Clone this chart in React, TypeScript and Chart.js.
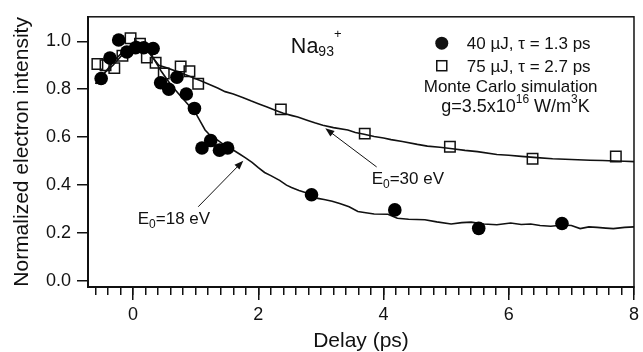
import React, { useEffect, useRef } from "react";
import { Chart, registerables } from "chart.js";

Chart.register(...registerables);

const FONT = '"Liberation Sans", Arial, Helvetica, sans-serif';
const INK = "#111111";

// 40 µJ, τ = 1.3 ps (filled circles)
const circleX = [-0.51, -0.37, -0.23, -0.1, 0.04, 0.17, 0.32, 0.44, 0.57, 0.7, 0.85, 0.98, 1.1, 1.24, 1.38, 1.51, 2.85, 4.18, 5.52, 6.85];
const circleY = [0.845, 0.93, 1.005, 0.955, 0.973, 0.973, 0.97, 0.827, 0.8, 0.85, 0.78, 0.72, 0.555, 0.586, 0.546, 0.555, 0.36, 0.297, 0.22, 0.24];

// 75 µJ, τ = 2.7 ps (open squares)
const squareX = [-0.57, -0.44, -0.3, -0.17, -0.04, 0.11, 0.22, 0.36, 0.49, 0.76, 0.9, 1.04, 2.36, 3.7, 5.06, 6.38, 7.71];
const squareY = [0.905, 0.9, 0.888, 0.94, 1.013, 0.99, 0.932, 0.91, 0.866, 0.895, 0.875, 0.823, 0.716, 0.615, 0.56, 0.51, 0.52];

// Monte Carlo simulation, E0 = 18 eV
const sim18X = [-0.6, -0.45, -0.3, -0.15, 0, 0.1, 0.2, 0.3, 0.45, 0.6, 0.73, 0.85, 1.0, 1.15, 1.26, 1.35, 1.47, 1.58, 1.7, 1.79, 1.9, 2.0, 2.1, 2.2, 2.34, 2.45, 2.53, 2.65, 2.8, 2.95, 3.05, 3.18, 3.3, 3.45, 3.59, 3.69, 3.85, 4.07, 4.22, 4.4, 4.66, 4.85, 5.08, 5.25, 5.4, 5.6, 5.81, 6.03, 6.2, 6.35, 6.5, 6.67, 6.87, 7.0, 7.14, 7.28, 7.41, 7.55, 7.67, 7.85, 8.0];
const sim18Y = [0.823, 0.87, 0.92, 0.96, 0.985, 0.99, 0.975, 0.94, 0.875, 0.82, 0.78, 0.745, 0.7, 0.63, 0.6, 0.588, 0.565, 0.55, 0.53, 0.515, 0.495, 0.473, 0.453, 0.44, 0.42, 0.4, 0.39, 0.378, 0.365, 0.345, 0.34, 0.333, 0.324, 0.31, 0.29, 0.286, 0.28, 0.279, 0.262, 0.258, 0.256, 0.247, 0.238, 0.244, 0.246, 0.238, 0.235, 0.242, 0.236, 0.238, 0.232, 0.229, 0.234, 0.232, 0.219, 0.226, 0.224, 0.221, 0.219, 0.224, 0.226];

// Monte Carlo simulation, E0 = 30 eV
const sim30X = [-0.6, -0.45, -0.32, -0.15, -0.05, 0.05, 0.15, 0.26, 0.41, 0.55, 0.69, 0.82, 0.94, 1.08, 1.22, 1.35, 1.47, 1.6, 1.75, 1.88, 2.0, 2.14, 2.28, 2.4, 2.54, 2.63, 2.79, 2.9, 3.03, 3.2, 3.43, 3.55, 3.69, 3.85, 4.0, 4.12, 4.3, 4.54, 4.7, 4.9, 5.1, 5.3, 5.5, 5.81, 6.0, 6.2, 6.45, 6.7, 6.9, 7.1, 7.3, 7.5, 7.7, 7.85, 8.0];
const sim30Y = [0.823, 0.87, 0.9, 0.95, 0.977, 1.0, 0.99, 0.95, 0.9, 0.888, 0.875, 0.862, 0.85, 0.835, 0.82, 0.805, 0.79, 0.78, 0.766, 0.752, 0.74, 0.726, 0.711, 0.7, 0.69, 0.684, 0.67, 0.66, 0.65, 0.64, 0.63, 0.62, 0.612, 0.603, 0.597, 0.59, 0.582, 0.57, 0.563, 0.558, 0.552, 0.545, 0.54, 0.528, 0.525, 0.52, 0.515, 0.51, 0.508, 0.506, 0.504, 0.503, 0.501, 0.5, 0.498];

const X_MIN = -0.72;
const X_MAX = 8;
const Y_MIN = -0.0245;
const Y_MAX = 1.102;

const toPts = (xs: number[], ys: number[]) => xs.map((x, i) => ({ x, y: ys[i] }));

type Seg = { t: string; size: number; dy: number };

function drawRich(ctx: CanvasRenderingContext2D, x: number, y: number, segs: Seg[], align: "left" | "center" = "left") {
  let total = 0;
  const widths = segs.map((s) => {
    ctx.font = `${s.size}px ${FONT}`;
    const w = ctx.measureText(s.t).width;
    total += w;
    return w;
  });
  let cx = align === "center" ? x - total / 2 : x;
  segs.forEach((s, i) => {
    ctx.font = `${s.size}px ${FONT}`;
    ctx.fillText(s.t, cx, y + s.dy);
    cx += widths[i];
  });
}

function arrow(ctx: CanvasRenderingContext2D, x1: number, y1: number, x2: number, y2: number) {
  const a = Math.atan2(y2 - y1, x2 - x1);
  const L = 9;
  const W = 3.5;
  ctx.beginPath();
  ctx.moveTo(x1, y1);
  ctx.lineTo(x2 - Math.cos(a) * L * 0.8, y2 - Math.sin(a) * L * 0.8);
  ctx.lineWidth = 1;
  ctx.stroke();
  ctx.beginPath();
  ctx.moveTo(x2, y2);
  ctx.lineTo(x2 - Math.cos(a) * L - Math.sin(a) * W, y2 - Math.sin(a) * L + Math.cos(a) * W);
  ctx.lineTo(x2 - Math.cos(a) * L + Math.sin(a) * W, y2 - Math.sin(a) * L - Math.cos(a) * W);
  ctx.closePath();
  ctx.fill();
}

const annotationPlugin = {
  id: "annotations",
  afterDraw(chart: any) {
    const { ctx, chartArea, scales } = chart;
    const px = (v: number) => scales.x.getPixelForValue(v);
    const py = (v: number) => scales.y.getPixelForValue(v);
    ctx.save();
    ctx.strokeStyle = INK;
    ctx.fillStyle = INK;
    ctx.lineWidth = 1.5;
    ctx.strokeRect(chartArea.left, chartArea.top, chartArea.right - chartArea.left, chartArea.bottom - chartArea.top);

    ctx.textBaseline = "alphabetic";
    ctx.textAlign = "left";

    // Na93+
    drawRich(ctx, px(2.52), py(0.952), [
      { t: "Na", size: 21.5, dy: 0 },
      { t: "93", size: 14, dy: 3.5 },
      { t: "+", size: 13, dy: -15 },
    ]);

    // legend markers
    ctx.beginPath();
    ctx.arc(px(4.93), py(0.992), 6.5, 0, Math.PI * 2);
    ctx.fill();
    ctx.lineWidth = 1.5;
    ctx.strokeRect(px(4.93) - 5, py(0.898) - 5, 10, 10);

    drawRich(ctx, px(5.33), py(0.967), [{ t: "40 \u00b5J, \u03c4 = 1.3 ps", size: 17, dy: 0 }]);
    drawRich(ctx, px(5.33), py(0.873), [{ t: "75 \u00b5J, \u03c4 = 2.7 ps", size: 17, dy: 0 }]);
    drawRich(ctx, px(6.03), py(0.788), [{ t: "Monte Carlo simulation", size: 17, dy: 0 }], "center");
    drawRich(ctx, px(4.92), py(0.706), [
      { t: "g=3.5x10", size: 18, dy: 0 },
      { t: "16", size: 12, dy: -9 },
      { t: " W/m", size: 18, dy: 0 },
      { t: "3", size: 12, dy: -9 },
      { t: "K", size: 18, dy: 0 },
    ]);

    // E0 labels
    drawRich(ctx, px(3.81), py(0.404), [
      { t: "E", size: 17, dy: 0 },
      { t: "0", size: 12, dy: 4 },
      { t: "=30 eV", size: 17, dy: 0 },
    ]);
    drawRich(ctx, px(0.075), py(0.2376), [
      { t: "E", size: 17, dy: 0 },
      { t: "0", size: 12, dy: 4 },
      { t: "=18 eV", size: 17, dy: 0 },
    ]);

    arrow(ctx, px(1.04), py(0.31), px(1.76), py(0.502));
    arrow(ctx, px(3.89), py(0.476), px(3.07), py(0.637));
    ctx.restore();
  },
};

export default function App() {
  const ref = useRef<HTMLCanvasElement>(null);

  useEffect(() => {
    const canvas = ref.current;
    if (!canvas) return;
    Chart.defaults.font.family = FONT;
    const chart = new Chart(canvas, {
      type: "scatter",
      data: {
        datasets: [
          {
            label: "40 \u00b5J, \u03c4 = 1.3 ps",
            data: toPts(circleX, circleY),
            pointStyle: "circle",
            pointRadius: 6.8,
            backgroundColor: "#000",
            borderColor: "#000",
            borderWidth: 0,
            showLine: false,
            order: 0,
          },
          {
            label: "75 \u00b5J, \u03c4 = 2.7 ps",
            data: toPts(squareX, squareY),
            pointStyle: "rect",
            pointRadius: 7.4,
            backgroundColor: "rgba(0,0,0,0)",
            borderColor: INK,
            borderWidth: 1.5,
            showLine: false,
            order: 0,
          },
          {
            label: "E0=18 eV",
            data: toPts(sim18X, sim18Y),
            showLine: true,
            pointRadius: 0,
            borderColor: INK,
            borderWidth: 1.6,
            tension: 0,
            order: 2,
          },
          {
            label: "E0=30 eV",
            data: toPts(sim30X, sim30Y),
            showLine: true,
            pointRadius: 0,
            borderColor: INK,
            borderWidth: 1.6,
            tension: 0,
            order: 2,
          },
        ],
      },
      options: {
        animation: false,
        responsive: false,
        devicePixelRatio: 1,
        layout: { padding: { left: 0, right: 5, top: 11, bottom: 0 } },
        plugins: { legend: { display: false }, tooltip: { enabled: false } },
        scales: {
          xMinor: {
            type: "linear",
            position: "bottom",
            weight: 0,
            min: X_MIN,
            max: X_MAX,
            afterFit: (s: any) => {
              s.height = 0;
            },
            ticks: { display: false, stepSize: 0.2, includeBounds: false, autoSkip: false, maxTicksLimit: 200 },
            grid: { drawOnChartArea: false, drawTicks: true, tickLength: 8, color: INK, lineWidth: 1.5 },
            border: { display: false },
          },
          x: {
            type: "linear",
            position: "bottom",
            weight: 1,
            min: X_MIN,
            max: X_MAX,
            afterFit: (s: any) => {
              s.height = 65;
            },
            ticks: {
              stepSize: 2,
              includeBounds: false,
              autoSkip: false,
              maxRotation: 0,
              padding: 4,
              color: INK,
              font: { size: 18, family: FONT },
              callback: (v: any) => String(Math.round(Number(v))),
            },
            grid: { drawOnChartArea: false, drawTicks: true, tickLength: 13, color: INK, lineWidth: 1.5 },
            border: { display: true, color: INK, width: 2 },
            title: {
              display: true,
              text: "Delay (ps)",
              color: INK,
              font: { size: 21, family: FONT, lineHeight: 1 },
              padding: { top: 0, bottom: 0.5 },
            },
          },
          y: {
            type: "linear",
            position: "left",
            min: Y_MIN,
            max: Y_MAX,
            afterFit: (s: any) => {
              s.width = 88;
            },
            ticks: {
              stepSize: 0.2,
              includeBounds: false,
              padding: 6,
              color: INK,
              font: { size: 18, family: FONT },
              callback: (v: any) => Number(v).toFixed(1),
            },
            grid: { drawOnChartArea: false, drawTicks: true, tickLength: 11, color: INK, lineWidth: 1.5 },
            border: { display: true, color: INK, width: 2 },
            title: {
              display: true,
              text: "Normalized electron intensity",
              color: INK,
              font: { size: 21, family: FONT, lineHeight: 1 },
              padding: { top: 11.5, bottom: 0 },
            },
          },
        },
      } as any,
      plugins: [annotationPlugin],
    });
    return () => chart.destroy();
  }, []);

  return (
    <div style={{ position: "fixed", left: 0, top: 0, width: 643, height: 352, background: "#fff" }}>
      <canvas ref={ref} width={643} height={352} style={{ display: "block", width: 643, height: 352 }} />
    </div>
  );
}
